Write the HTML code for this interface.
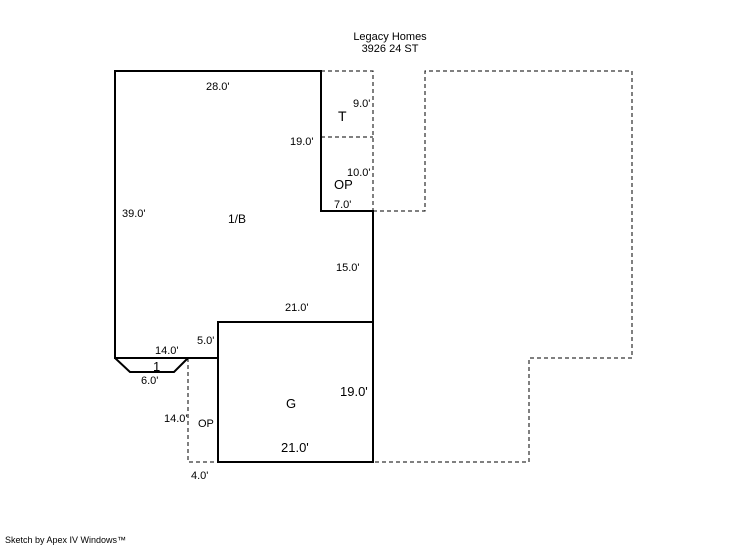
<!DOCTYPE html>
<html><head><style>
body{margin:0;background:#fff;}
svg text{font-family:"Liberation Sans",sans-serif;font-size:11px;fill:#000;}
</style></head><body>
<svg width="746" height="547" xmlns="http://www.w3.org/2000/svg">
<g fill="none" stroke="#000" stroke-width="1" stroke-dasharray="4,3">
<polyline points="321,71 373,71 373,211"/>
<line x1="321" y1="137" x2="373" y2="137"/>
<polyline points="373,211 425,211 425,71 632,71 632,358 529,358 529,462 373,462"/>
<polyline points="188,358 188,462 218,462"/>
</g>
<g fill="none" stroke="#000" stroke-width="2">
<polygon points="115,71 321,71 321,211 373,211 373,322 218,322 218,358 115,358"/>
<rect x="218" y="322" width="155" height="140"/>
<polyline points="115,358 130,372 174,372 188,358"/>
</g>
<text x="153" y="371" style="font-size:13px">1</text>
<text x="390" y="40" text-anchor="middle">Legacy Homes</text>
<text x="390" y="52" text-anchor="middle">3926 24 ST</text>
<text x="206" y="90">28.0'</text>
<text x="353" y="107">9.0'</text>
<text x="338" y="121" style="font-size:14px">T</text>
<text x="290" y="145">19.0'</text>
<text x="347" y="176">10.0'</text>
<text x="334" y="189" style="font-size:13px">OP</text>
<text x="334" y="208">7.0'</text>
<text x="122" y="217">39.0'</text>
<text x="228" y="223" style="font-size:12px">1/B</text>
<text x="336" y="271">15.0'</text>
<text x="285" y="311">21.0'</text>
<text x="197" y="344">5.0'</text>
<text x="155" y="354">14.0'</text>
<text x="141" y="384">6.0'</text>
<text x="340" y="396" style="font-size:13px">19.0'</text>
<text x="286" y="408" style="font-size:13px">G</text>
<text x="164" y="422">14.0'</text>
<text x="198" y="427">OP</text>
<text x="281" y="452" style="font-size:13px">21.0'</text>
<text x="191" y="479">4.0'</text>
<text x="5" y="543" style="font-size:9px">Sketch by Apex IV Windows™</text>
</svg>
</body></html>
